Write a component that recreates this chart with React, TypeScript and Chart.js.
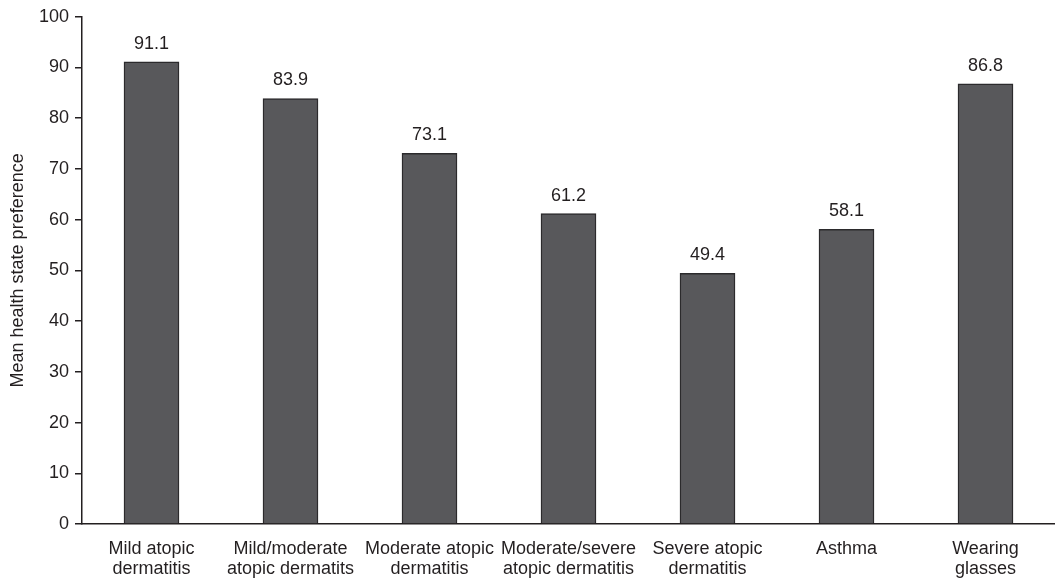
import React, { useEffect, useRef } from "react";
import { Chart, registerables } from "chart.js";

Chart.register(...registerables);

const categories: string[][] = [
  ["Mild atopic", "dermatitis"],
  ["Mild/moderate", "atopic dermatits"],
  ["Moderate atopic", "dermatitis"],
  ["Moderate/severe", "atopic dermatitis"],
  ["Severe atopic", "dermatitis"],
  ["Asthma"],
  ["Wearing", "glasses"],
];
const values: number[] = [91.1, 83.9, 73.1, 61.2, 49.4, 58.1, 86.8];
const yTitle = "Mean health state preference";

const FONT = "'Liberation Sans', Arial, Helvetica, sans-serif";
const TEXT = "#231f20";
const SIZE = 18;

const valueLabels = {
  id: "valueLabels",
  afterDatasetsDraw(chart: any) {
    const ctx = chart.ctx;
    const meta = chart.getDatasetMeta(0);
    ctx.save();
    ctx.font = `${SIZE}px ${FONT}`;
    ctx.fillStyle = TEXT;
    ctx.textAlign = "center";
    ctx.textBaseline = "bottom";
    meta.data.forEach((bar: any, i: number) => {
      ctx.fillText(values[i].toFixed(1), bar.x, bar.y - 9);
    });
    ctx.restore();
  },
};

export default function App() {
  const ref = useRef<HTMLCanvasElement | null>(null);
  useEffect(() => {
    document.body.style.margin = "0";
    const chart = new Chart(ref.current!, {
      type: "bar",
      data: {
        labels: categories,
        datasets: [
          {
            data: values,
            backgroundColor: "#58585b",
            borderColor: "#2b2a2c",
            borderWidth: 1.5,
            barThickness: 55,
          },
        ],
      },
      options: {
        animation: false,
        responsive: false,
        maintainAspectRatio: false,
        layout: { padding: { top: 8, right: 0, bottom: 0, left: 7 } },
        plugins: {
          legend: { display: false },
          tooltip: { enabled: false },
        },
        scales: {
          x: {
            afterFit: (scale: any) => {
              scale.height = 55;
            },
            grid: { display: false, drawTicks: false },
            border: { display: true, color: TEXT, width: 1.5 },
            ticks: {
              color: TEXT,
              font: { family: FONT, size: SIZE, lineHeight: 1.12 },
              padding: 15,
              maxRotation: 0,
              autoSkip: false,
            },
          },
          y: {
            min: 0,
            max: 100,
            afterFit: (scale: any) => {
              scale.width = 75;
            },
            grid: {
              display: true,
              drawOnChartArea: false,
              drawTicks: true,
              tickLength: 7,
              color: TEXT,
              lineWidth: 1.5,
            },
            border: { display: true, color: TEXT, width: 1.5 },
            ticks: {
              stepSize: 10,
              color: TEXT,
              font: { family: FONT, size: SIZE },
              padding: 6,
            },
            title: {
              display: true,
              text: yTitle,
              color: TEXT,
              font: { family: FONT, size: SIZE },
              padding: 0,
            },
          },
        },
      },
      plugins: [valueLabels],
    });
    return () => chart.destroy();
  }, []);
  return (
    <div style={{ width: 1055, height: 579 }}>
      <canvas ref={ref} width={1055} height={579} style={{ display: "block" }} />
    </div>
  );
}
